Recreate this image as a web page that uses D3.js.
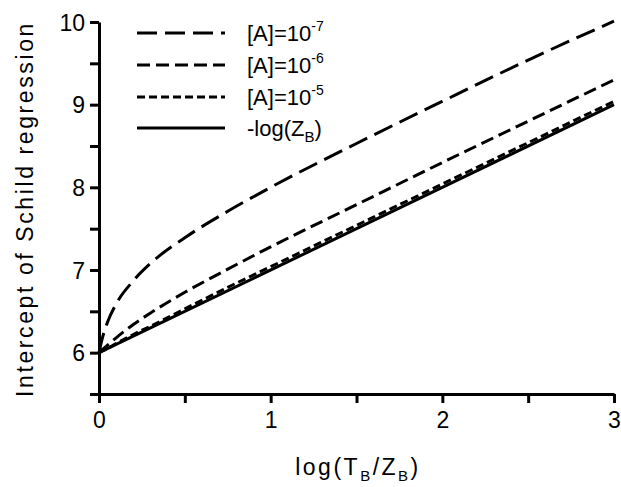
<!DOCTYPE html>
<html>
<head>
<meta charset="utf-8">
<script src="https://cdnjs.cloudflare.com/ajax/libs/d3/7.8.5/d3.min.js"></script>
<style>
  body { margin: 0; background: #fff; }
  text { font-family: "Liberation Sans", Arial, sans-serif; fill: #000; }
</style>
</head>
<body>
<div id="chart"></div>
<script>
// values
let xVals   = [0, 0.02, 0.05, 0.1, 0.2, 0.3, 0.5, 0.75, 1, 1.5, 2, 2.5, 3];
let a7Vals  = [6.00, 6.18, 6.37, 6.59, 6.87, 7.08, 7.39, 7.71, 8.00, 8.53, 9.04, 9.54, 10.01];
let a6Vals  = [6.00, 6.04, 6.09, 6.18, 6.34, 6.48, 6.73, 7.01, 7.28, 7.79, 8.30, 8.80, 9.30];
let a5Vals  = [6.00, 6.02, 6.05, 6.11, 6.22, 6.32, 6.53, 6.79, 7.04, 7.54, 8.04, 8.54, 9.04];
let zbX     = [0, 3];
let zbVals  = [6, 9];

let xTicks = [0, 0.5, 1, 1.5, 2, 2.5, 3];
let yTicks = [5.5, 6, 6.5, 7, 7.5, 8, 8.5, 9, 9.5, 10];

let legendNames = ["[A]=10", "[A]=10", "[A]=10", "-log(Z"];
let legendSups  = ["-7", "-6", "-5", null];

let svgWidth = 621, svgHeight = 487;
let svg = d3.select("#chart").append("svg")
    .attr("width", svgWidth)
    .attr("height", svgHeight);

let xScale = d3.scaleLinear().domain([0, 3]).range([99, 614]);
let yScale = d3.scaleLinear().domain([5.5, 10]).range([394, 22]);

// axes
let xAxis = d3.axisBottom(xScale).tickValues(xTicks).tickSize(9).tickSizeOuter(0)
    .tickFormat(d => Number.isInteger(d) ? d : "");
let yAxis = d3.axisLeft(yScale).tickValues(yTicks).tickSize(9).tickSizeOuter(0)
    .tickFormat(d => (Number.isInteger(d) && d >= 6) ? d : "");

let gx = svg.append("g").attr("transform", "translate(0," + yScale(5.5) + ")").call(xAxis);
let gy = svg.append("g").attr("transform", "translate(" + xScale(0) + ",0)").call(yAxis);

[gx, gy].forEach(g => {
  g.select(".domain").attr("stroke", "#000").attr("stroke-width", 3);
  g.selectAll(".tick line").attr("stroke", "#000").attr("stroke-width", 3);
  g.selectAll(".tick text").style("font-size", "23px").attr("fill", "#000");
});
gx.selectAll(".tick text").attr("dy", "1.05em").attr("y", 10);
gy.selectAll(".tick text").attr("x", -14).attr("dy", "0.36em");

// lines
let line = d3.line()
    .x(d => xScale(d[0]))
    .y(d => yScale(d[1]))
    .curve(d3.curveMonotoneX);

let series = [
  {vals: a7Vals, xs: xVals, dash: "20,8"},
  {vals: a6Vals, xs: xVals, dash: "13,6"},
  {vals: a5Vals, xs: xVals, dash: "8,4"},
  {vals: zbVals, xs: zbX, dash: null}
];

series.forEach(s => {
  svg.append("path")
    .datum(s.xs.map((x, i) => [x, s.vals[i]]))
    .attr("d", line)
    .attr("fill", "none")
    .attr("stroke", "#000")
    .attr("stroke-width", 3)
    .attr("stroke-dasharray", s.dash);
});

// legend
let legY = [33, 65, 97, 128];
series.forEach((s, i) => {
  svg.append("line")
    .attr("x1", 137).attr("x2", 225)
    .attr("y1", legY[i]).attr("y2", legY[i])
    .attr("stroke", "#000").attr("stroke-width", 3)
    .attr("stroke-dasharray", s.dash);

  let t = svg.append("text")
    .attr("x", 247).attr("y", legY[i] + 8)
    .style("font-size", "22px")
    .text(legendNames[i]);
  if (legendSups[i]) {
    t.append("tspan").attr("dy", -10).style("font-size", "14px").text(legendSups[i]);
  } else {
    t.append("tspan").attr("dy", 6).style("font-size", "15px").text("B");
    t.append("tspan").attr("dy", -6).text(")");
  }
});

// axis titles
let xt = svg.append("text")
  .attr("x", 358).attr("y", 475)
  .attr("text-anchor", "middle")
  .style("font-size", "23px")
  .style("letter-spacing", "2.5px")
  .text("log(T");
xt.append("tspan").attr("dy", 6).style("font-size", "15px").text("B");
xt.append("tspan").attr("dy", -6).text("/Z");
xt.append("tspan").attr("dy", 6).style("font-size", "15px").text("B");
xt.append("tspan").attr("dy", -6).text(")");

svg.append("text")
  .attr("transform", "translate(33," + 209 + ") rotate(-90)")
  .attr("text-anchor", "middle")
  .style("font-size", "23px")
  .style("letter-spacing", "2.6px")
  .text("Intercept of Schild regression");
</script>
</body>
</html>
